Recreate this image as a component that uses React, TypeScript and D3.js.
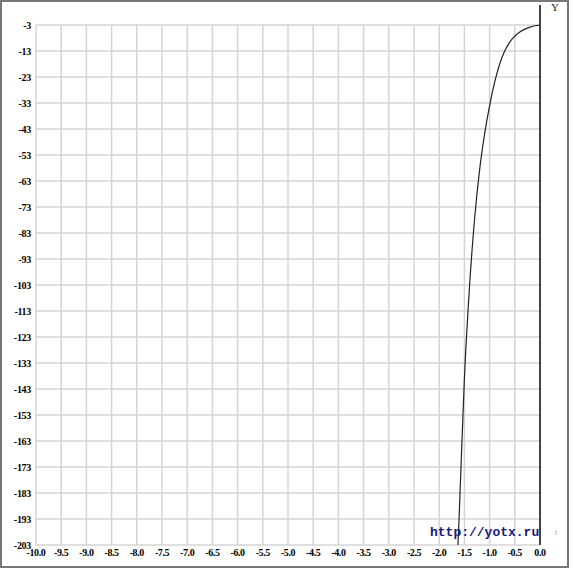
import React from "react";
import * as d3 from "d3";

const xTicks = [-10, -9.5, -9, -8.5, -8, -7.5, -7, -6.5, -6, -5.5, -5, -4.5, -4, -3.5, -3, -2.5, -2, -1.5, -1, -0.5, 0];
const yTicks = [-3, -13, -23, -33, -43, -53, -63, -73, -83, -93, -103, -113, -123, -133, -143, -153, -163, -173, -183, -193, -203];
const curveX = [-1.627, -1.6, -1.5, -1.4, -1.3, -1.2, -1.1, -1.0, -0.9, -0.8, -0.7, -0.6, -0.5, -0.4, -0.3, -0.2, -0.1, 0];
const curveY = [-203, -190, -139, -104, -78, -59, -45, -34, -25, -18, -13, -9.6, -7.3, -5.7, -4.6, -3.8, -3.3, -3];

export default function App() {
  const W = 575, H = 571;
  const x = d3.scaleLinear().domain([-10, 0]).range([36, 540]);
  const y = d3.scaleLinear().domain([-3, -203]).range([25, 545]);
  const pts = curveX.map((v, i) => [v, curveY[i]] as [number, number]);
  const line = d3.line<[number, number]>().x(d => x(d[0])).y(d => y(d[1])).curve(d3.curveMonotoneX);
  return (
    <svg width={W} height={H} style={{ position: "absolute", left: 0, top: 0, background: "#fff" }}>
      <rect x={1} y={1} width={567} height={566} fill="#fff" stroke="#777" strokeWidth={2} />
      <g>
        {xTicks.map(t => (
          <line key={"vx" + t} x1={x(t)} x2={x(t)} y1={y(-3)} y2={y(-203)} stroke="#d4d4d4" strokeWidth={1.5} />
        ))}
        {yTicks.map(t => (
          <line key={"hy" + t} x1={x(-10)} x2={x(0)} y1={y(t)} y2={y(t)} stroke="#d4d4d4" strokeWidth={1.5} />
        ))}
      </g>
      <line x1={x(0)} x2={x(0)} y1={5} y2={y(-203)} stroke="#444" strokeWidth={2} />
      <path d={line(pts) || ""} fill="none" stroke="#222" strokeWidth={1.2} />
      <g fontFamily="'Liberation Serif', serif" fontWeight="bold" fontSize={10} fill="#000">
        {yTicks.map(t => (
          <text key={"yl" + t} x={31} y={y(t)} dy="0.35em" textAnchor="end" letterSpacing={-0.3}>{t}</text>
        ))}
        {xTicks.map(t => (
          <text key={"xl" + t} x={x(t)} y={556} textAnchor="middle" letterSpacing={-0.4}>{t.toFixed(1)}</text>
        ))}
      </g>
      <text x={555} y={11} fontFamily="'Liberation Serif', serif" fontSize={11} textAnchor="middle" fill="#222">Y</text>
      <text x={556} y={535} fontFamily="'Liberation Serif', serif" fontSize={9} textAnchor="middle" fill="#aaa">t</text>
      <text x={430} y={536} fontFamily="'Liberation Mono', monospace" fontWeight="bold" fontSize={13} fill="#1a1a7a">http://yotx.ru</text>
    </svg>
  );
}
